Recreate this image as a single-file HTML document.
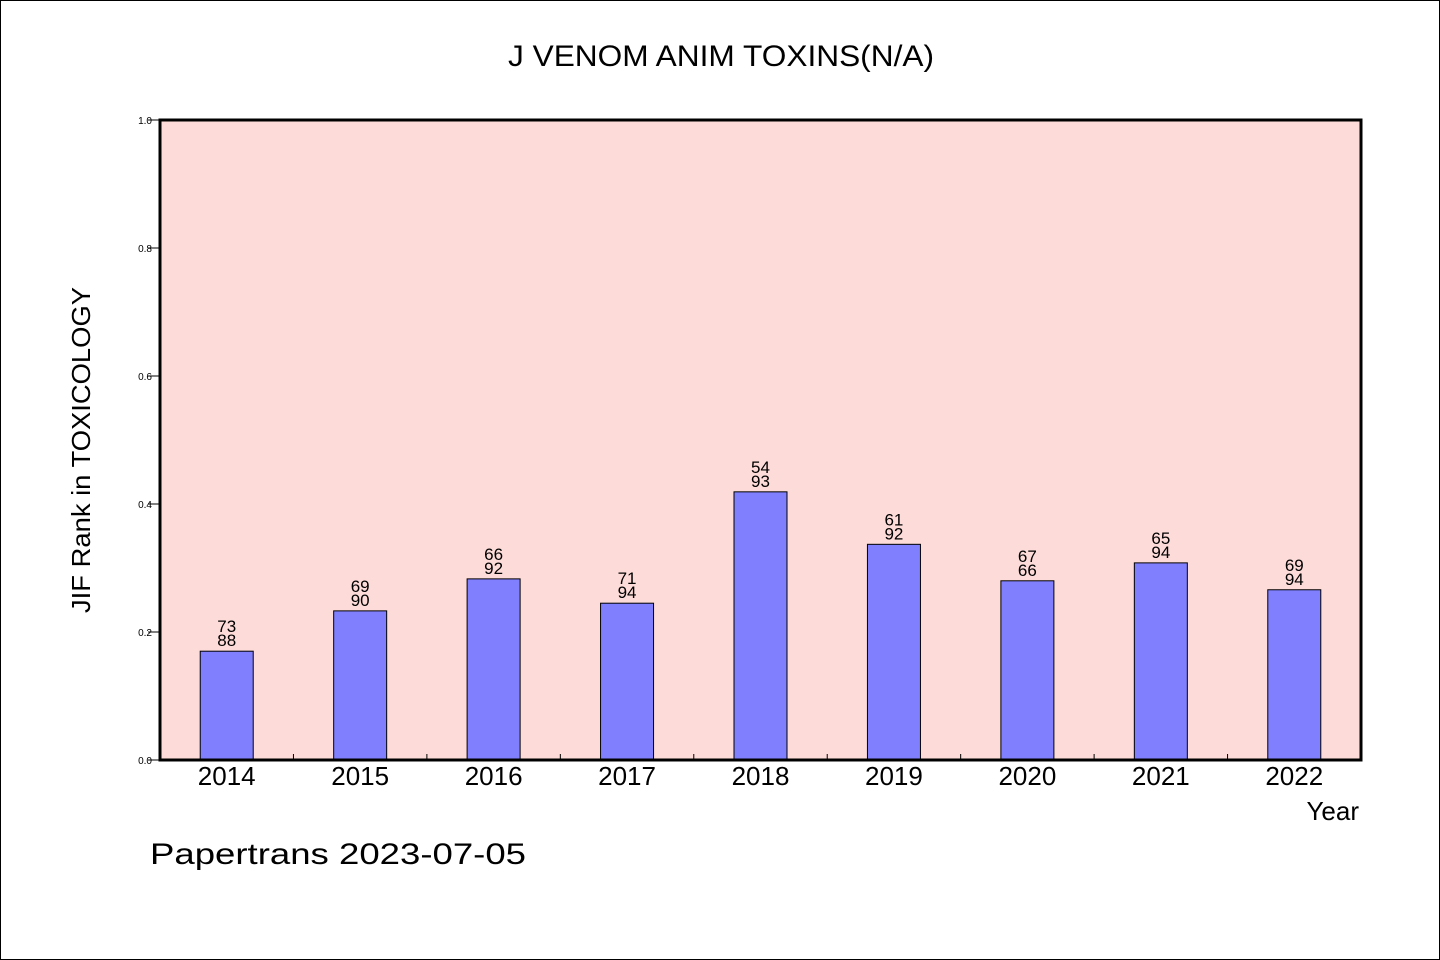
<!DOCTYPE html>
<html><head><meta charset="utf-8"><style>
html,body{margin:0;padding:0;background:#fff}
svg{display:block}
text{font-family:"Liberation Sans","WenQuanYi Zen Hei",sans-serif;fill:#000}
</style></head><body>
<svg id="chart" width="1440" height="960" viewBox="0 0 1440 960">
<rect x="0.5" y="0.5" width="1439" height="959" fill="#fff" stroke="#000"/>
<text x="721" y="66" font-size="30" text-anchor="middle" textLength="426" lengthAdjust="spacingAndGlyphs">J VENOM ANIM TOXINS(N/A)</text>
<rect x="160" y="120" width="1201" height="640" fill="#fddbd8"/>
<g id="marks"></g>
<rect x="160" y="120" width="1201" height="640" fill="none" stroke="#000" stroke-width="3"/>
<text transform="translate(90,450) rotate(-90)" font-size="26" text-anchor="middle" textLength="326" lengthAdjust="spacingAndGlyphs">JIF Rank in TOXICOLOGY</text>
<text x="1359" y="820" font-size="26" text-anchor="end">Year</text>
<text x="150" y="864" font-size="30" textLength="376" lengthAdjust="spacingAndGlyphs">Papertrans 2023-07-05</text>
</svg>
<script>
const years = ["2014","2015","2016","2017","2018","2019","2020","2021","2022"];
const ranks = [73,69,66,71,54,61,67,65,69];
const totals = [88,90,92,94,93,92,66,94,94];
const values = [0.170,0.233,0.283,0.245,0.419,0.337,0.280,0.308,0.266];
const yTicks = ["0.0","0.2","0.4","0.6","0.8","1.0"];
const NS="http://www.w3.org/2000/svg";
const g=document.getElementById('marks');
const x0=160,x1=1361,y0=760,y1=120;
const band=(x1-x0)/years.length;
const xc=i=>x0+band*(i+0.5);
const ys=v=>y0-(y0-y1)*v;
function mk(t,a){const e=document.createElementNS(NS,t);for(const k in a)e.setAttribute(k,a[k]);g.appendChild(e);return e;}
yTicks.forEach(t=>{const y=ys(parseFloat(t));
 const l=mk('line',{x1:148,x2:160,y1:y,y2:y,stroke:'#000','stroke-width':1});
 
 
 const tx=mk('text',{x:152,y:y+4,'font-size':10,'text-anchor':'end'});tx.textContent=t;
 
 
});
for(let i=1;i<years.length;i++){const x=x0+band*i;
 const l=mk('line',{x1:x,x2:x,y1:y0,y2:y0-6,stroke:'#000','stroke-width':1});
 
 
}
years.forEach((yr,i)=>{
 const w=53,top=ys(values[i]);
 const b=mk('rect',{x:xc(i)-w/2,y:top,width:w,height:y0-top,fill:'#8080ff',stroke:'#000','stroke-width':1});
 
 
 const t1=mk('text',{x:xc(i),y:top-19,'font-size':17,'text-anchor':'middle'});t1.textContent=ranks[i];
 
 
 const t2=mk('text',{x:xc(i),y:top-5,'font-size':17,'text-anchor':'middle'});t2.textContent=totals[i];
 
 
 const xl=mk('text',{x:xc(i),y:785,'font-size':26,'text-anchor':'middle'});xl.textContent=yr;
 
 
});
</script>
</body></html>
